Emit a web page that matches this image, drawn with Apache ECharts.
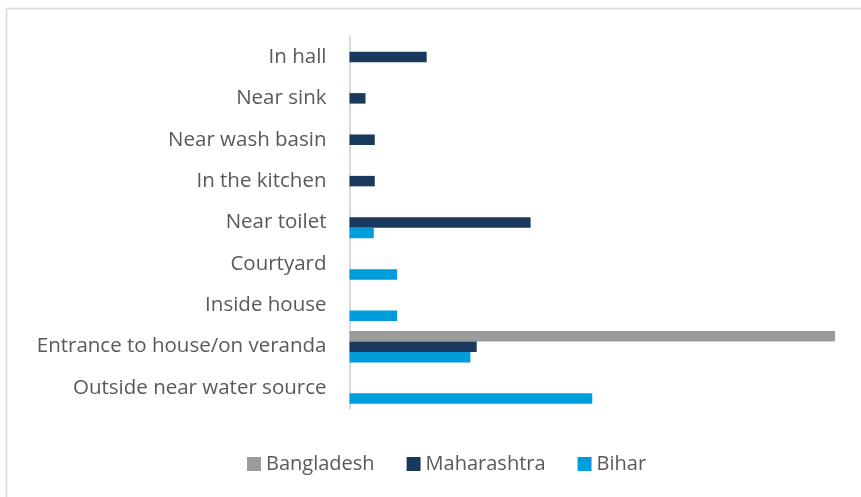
<!DOCTYPE html>
<html>
<head>
<meta charset="utf-8">
<script src="https://cdn.jsdelivr.net/npm/echarts@6/dist/echarts.min.js"></script>
<style>
html,body{margin:0;padding:0;background:#fff;}
#chart{width:861px;height:497px;}
</style>
</head>
<body>
<div id="chart"></div>
<script>
var chart = echarts.init(document.getElementById('chart'));
// categories, bottom to top
var places = ['Outside near water source', 'Entrance to house/on veranda', 'Inside house', 'Courtyard',
  'Near toilet', 'In the kitchen', 'Near wash basin', 'Near sink', 'In hall'];
var bangladesh = [null, 100, null, null, null, null, null, null, null];
var maharashtra = [null, 26.2, null, null, 37.3, 5.2, 5.2, 3.3, 15.9];
var bihar = [50, 24.9, 9.8, 9.8, 5.0, null, null, null, null];

var font = 'Open Sans';
var option = {
  backgroundColor: '#ffffff',
  animation: false,
  graphic: [{ // outer frame
    type: 'rect', left: 4, top: 6, silent: true,
    shape: { width: 900, height: 600 },
    style: { fill: 'none', stroke: '#d9d9d9', lineWidth: 1.5 }
  }],
  legend: {
    top: 447, left: 242,
    itemWidth: 14, itemHeight: 14, itemGap: 32,
    icon: 'rect',
    textStyle: { color: '#595959', fontSize: 20, lineHeight: 24, fontFamily: font }
  },
  grid: { left: 349.5, right: 26, top: 36.3, bottom: 88.3, containLabel: false },
  xAxis: {
    type: 'value', min: 0, max: 100,
    show: false
  },
  yAxis: {
    type: 'category', data: places,
    axisLine: { lineStyle: { color: '#d9d9d9', width: 2 } },
    axisTick: { show: false },
    axisLabel: { color: '#595959', fontSize: 20.5, fontFamily: font, margin: 23 }
  },
  series: [
    { name: 'Bangladesh', type: 'bar', data: bangladesh, barWidth: 10.5, barGap: '0%', itemStyle: { color: '#9b9b9b' } },
    { name: 'Maharashtra', type: 'bar', data: maharashtra, barWidth: 10.5, barGap: '0%', itemStyle: { color: '#193a5e' } },
    { name: 'Bihar', type: 'bar', data: bihar, barWidth: 10.5, barGap: '0%', itemStyle: { color: '#009ddd' } }
  ]
};
chart.setOption(option);
</script>
</body>
</html>
